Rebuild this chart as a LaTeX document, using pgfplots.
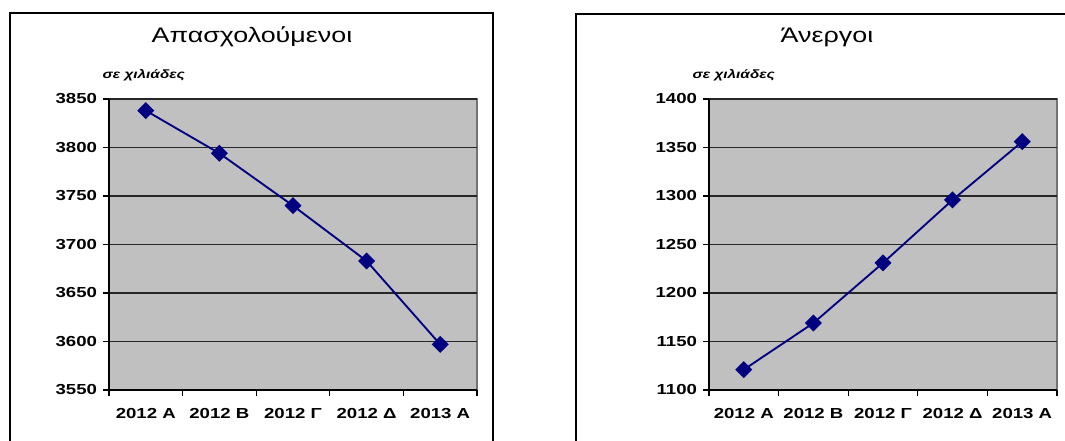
\documentclass[border=0pt]{standalone}
\usepackage{fontspec}
\setmainfont{Liberation Sans}[FakeStretch=1.28]
\usepackage{pgfplots}
\pgfplotsset{compat=1.18}
\definecolor{plotbg}{RGB}{192,192,192}
\definecolor{navyline}{RGB}{0,0,128}
\pgfplotsset{panel/.style={
  scale only axis, height=218.25pt,
  xmin=0.5, xmax=5.5, xtick={1,2,3,4,5},
  xticklabels={2012 Α,2012 Β,2012 Γ,2012 Δ,2013 Α},
  major x tick style={draw=none},
  minor xtick={0.5,1.5,2.5,3.5,4.5,5.5},
  minor x tick style={black, line width=1pt},
  minor tick length=4.5pt, major tick length=4.5pt,
  tick align=outside,
  axis x line*=bottom, axis y line*=left,
  axis line style={black, line width=1.3pt, -},
  axis background/.style={fill=plotbg, draw=black!55, line width=1.2pt},
  ymajorgrids, grid style={black!85, line width=1.4pt},
  y tick style={black, line width=1pt},
  ticklabel style={font=\bfseries\fontsize{10.9}{12}\selectfont},
  /pgf/number format/assume math mode=true,
  /pgf/number format/set thousands separator={},
  xticklabel style={yshift=-6pt},
  yticklabel style={xshift=-1pt},
  anchor=south west,
}}
\begin{document}
\begin{tikzpicture}[x=0.75pt,y=0.75pt]
\useasboundingbox (0,0) rectangle (1065,441);
\draw[line width=1.5pt] (10,-20) rectangle (493,428);
\draw[line width=1.5pt] (576,-20) rectangle (1100,427);
\node[font=\fontsize{15.75}{18}\selectfont] at (252,404) {Απασχολούμενοι};
\node[font=\fontsize{15.75}{18}\selectfont] at (827,404) {Άνεργοι};
\node[anchor=west, font=\bfseries\itshape\fontsize{9}{10}\selectfont] at (98,366) {σε χιλιάδες};
\node[anchor=west, font=\bfseries\itshape\fontsize{9}{10}\selectfont] at (688,366) {σε χιλιάδες};
\begin{axis}[panel, at={(81.75pt,38.25pt)}, width=276pt,
  ymin=3550, ymax=3850, ytick={3550,3600,...,3850}]
\addplot[navyline, line width=1.4pt, mark=square*, mark size=3.8pt,
  mark options={rotate=45, fill=navyline, solid}]
  coordinates {(1,3838) (2,3794) (3,3740) (4,3683) (5,3597)};
\end{axis}
\begin{axis}[panel, at={(531.75pt,38.25pt)}, width=261pt,
  ymin=1100, ymax=1400, ytick={1100,1150,...,1400}]
\addplot[navyline, line width=1.4pt, mark=square*, mark size=3.8pt,
  mark options={rotate=45, fill=navyline, solid}]
  coordinates {(1,1121) (2,1169) (3,1231) (4,1296) (5,1356)};
\end{axis}
\end{tikzpicture}
\end{document}
